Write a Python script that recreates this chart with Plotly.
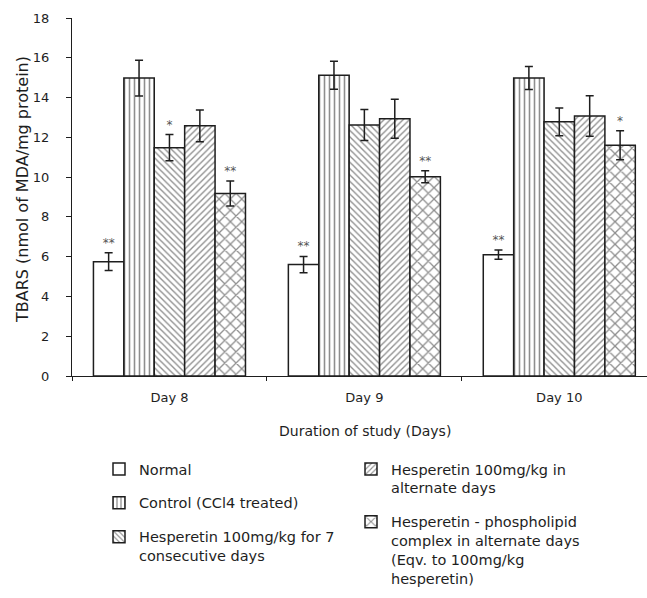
import plotly.graph_objects as go

days = ["Day 8", "Day 9", "Day 10"]
series_names = [
    "Normal",
    "Control (CCl4 treated)",
    "Hesperetin 100mg/kg for 7<br>consecutive days",
    "Hesperetin 100mg/kg in<br>alternate days",
    "Hesperetin - phospholipid<br>complex in alternate days<br>(Eqv. to 100mg/kg<br>hesperetin)",
]
normal = [5.75, 5.6, 6.1]
control = [14.98, 15.12, 14.98]
hesp7 = [11.48, 12.62, 12.78]
hesp_alt = [12.58, 12.93, 13.07]
complex_alt = [9.18, 10.02, 11.6]

normal_err = [0.45, 0.41, 0.23]
control_err = [0.9, 0.7, 0.58]
hesp7_err = [0.66, 0.78, 0.7]
hesp_alt_err = [0.8, 0.98, 1.02]
complex_err = [0.63, 0.3, 0.73]

normal_sig = ["**", "**", "**"]
control_sig = ["", "", ""]
hesp7_sig = ["*", "", ""]
hesp_alt_sig = ["", "", ""]
complex_sig = ["**", "**", "*"]

y_title = "TBARS (nmol of MDA/mg protein)"
x_title = "Duration of study (Days)"

values = [normal, control, hesp7, hesp_alt, complex_alt]
errors = [normal_err, control_err, hesp7_err, hesp_alt_err, complex_err]
sigs = [normal_sig, control_sig, hesp7_sig, hesp_alt_sig, complex_sig]
shapes = ["", "|", "\\", "/", "x"]
psizes = [8, 5, 4.5, 4.5, 8]
psolid = [0.2, 0.32, 0.3, 0.3, 0.3]
legends = ["legend", "legend", "legend", "legend2", "legend2"]

FONT = "DejaVu Sans, sans-serif"
INK = "#1e1e1e"

W, H = 647, 598
ML, MT = 72, 18
PH = H - MT  # paper height (bottom margin 0)
PW = W - ML
axis_bottom_px = 376
ydom0 = (H - axis_bottom_px) / PH

fig = go.Figure()
for i in range(5):
    fig.add_trace(go.Bar(
        x=days, y=values[i], name=series_names[i], offsetgroup=str(i),
        legendgroup=str(i),
        marker=dict(color="white", line=dict(color=INK, width=1.5),
                    pattern=dict(shape=shapes[i], fgcolor=INK, bgcolor="white",
                                 size=psizes[i], solidity=psolid[i])),
        error_y=dict(type="data", array=errors[i], color=INK, thickness=1.5, width=4),
        legend=legends[i],
    ))
for i in range(5):
    tops = [v + e for v, e in zip(values[i], errors[i])]
    fig.add_trace(go.Bar(
        x=days, y=[0.001] * 3, base=tops, offsetgroup=str(i),
        marker=dict(color="rgba(0,0,0,0)", line=dict(width=0)),
        text=sigs[i], textposition="outside", cliponaxis=False,
        textfont=dict(family=FONT, size=12, color="#555555"),
        showlegend=False, hoverinfo="skip",
    ))

fig.update_layout(
    width=W, height=H,
    margin=dict(l=ML, r=0, t=MT, b=0),
    plot_bgcolor="white", paper_bgcolor="white",
    barmode="group", bargap=0.22, bargroupgap=0,
    font=dict(family=FONT, size=13, color=INK),
    xaxis=dict(range=[-0.5, 2.45], showline=True, linecolor=INK, linewidth=1.2,
               ticks="outside", tickson="boundaries", ticklen=4, tickcolor=INK,
               tickfont=dict(size=13), showgrid=False, automargin=False,
               ticklabelstandoff=9),
    yaxis=dict(domain=[ydom0, 1], range=[0, 18], dtick=2, showline=True, linecolor=INK,
               linewidth=1.2, ticks="outside", ticklen=5, tickcolor=INK, showgrid=False,
               zeroline=False, tickfont=dict(size=13), automargin=False,
               ticklabelstandoff=14),
    legend=dict(x=(99 - ML) / PW, y=(H - 453) / PH,
                xanchor="left", yanchor="top", valign="top",
                font=dict(size=14.5), tracegroupgap=12, itemwidth=30,
                bgcolor="rgba(0,0,0,0)"),
    legend2=dict(x=(351 - ML) / PW, y=(H - 453) / PH,
                 xanchor="left", yanchor="top", valign="top",
                 font=dict(size=14.5), tracegroupgap=12, itemwidth=30,
                 bgcolor="rgba(0,0,0,0)"),
    annotations=[
        dict(text=y_title, xref="paper", yref="paper", x=0, xshift=22 - ML,
             y=(H - 190) / PH, textangle=-90, showarrow=False,
             xanchor="center", yanchor="middle", font=dict(size=16)),
        dict(text=x_title, xref="paper", yref="paper", x=(365 - ML) / PW,
             y=(H - 431) / PH, showarrow=False, xanchor="center", yanchor="middle",
             font=dict(size=14)),
    ],
)

fig.write_html("out.html", config={"displayModeBar": False},
               post_script="document.body.style.margin='0';document.body.style.overflow='hidden';")
